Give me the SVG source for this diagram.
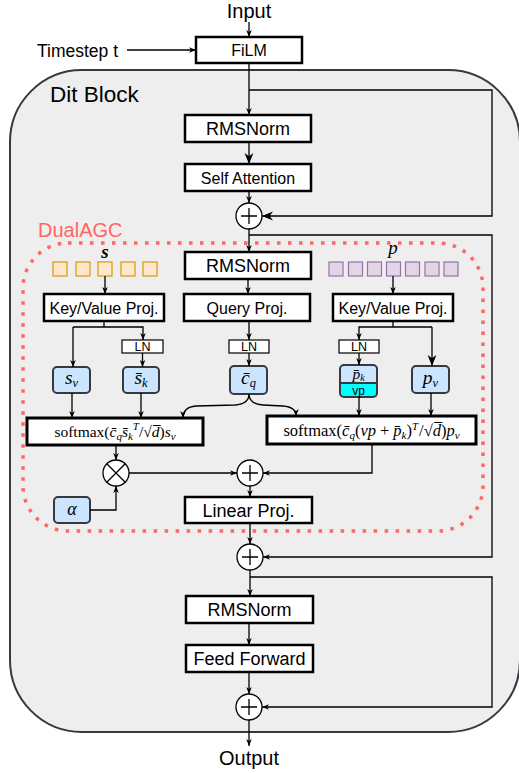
<svg xmlns="http://www.w3.org/2000/svg" width="519" height="773" viewBox="0 0 519 773">
<style>
.t{font-family:"Liberation Sans",Arial,sans-serif;fill:#000;text-anchor:middle}
.box{fill:#fff;stroke:#000;stroke-width:2.5}
.ln{fill:#fff;stroke:#000;stroke-width:1.2}
.bl{fill:#cce5ff;stroke:#36393d;stroke-width:2}
.sm{fill:#fff;stroke:#000;stroke-width:3}
.c{fill:#fff;stroke:#000;stroke-width:1.3}
.e{fill:none;stroke:#000;stroke-width:1.3}
.m{font-family:"Liberation Serif","Times New Roman",serif;fill:#000;text-anchor:middle}
.i{font-style:italic}
.sub{font-size:11px}
.sup{font-size:11px}
.nsub{font-size:12.5px}
.sqs{fill:#ffe6cc;stroke:#d79b00;stroke-width:1.2}
.sqp{fill:#e1d5e7;stroke:#9673a6;stroke-width:1.2}
</style>
<defs>
<marker id="a" viewBox="0 0 10 10" refX="10" refY="5" markerWidth="7" markerHeight="7" markerUnits="userSpaceOnUse" orient="auto"><path d="M0,1 L10,5 L0,9 L3,5 z" fill="#000"/></marker>
<marker id="b" viewBox="0 0 10 10" refX="10" refY="5" markerWidth="11" markerHeight="11" markerUnits="userSpaceOnUse" orient="auto"><path d="M0,1 L10,5 L0,9 L3,5 z" fill="#000"/></marker>
</defs>

<g id="ditblock">
<rect x="10" y="70" width="510" height="662" rx="72" fill="#eeeeee" stroke="#36393d" stroke-width="2"/>
<text class="t" x="50" y="102" font-size="22.5" style="text-anchor:start">Dit Block</text>
</g>

<g id="dualagc">
<rect x="23" y="243" width="460" height="288" rx="45" fill="none" stroke="#ff6666" stroke-width="3.5" stroke-dasharray="3.5 7.5"/>
<text x="38" y="237" font-family="Liberation Sans,Arial,sans-serif" font-size="20" fill="#ff6666">DualAGC</text>
</g>

<g id="input"><text class="t" x="249" y="18" font-size="20">Input</text></g>
<g id="timestep"><text class="t" x="37" y="57" font-size="17.5" style="text-anchor:start">Timestep t</text></g>
<g id="film"><rect class="box" x="196" y="37" width="106" height="26"/><text class="t" x="249" y="56" font-size="16">FiLM</text></g>

<g id="rmsnorm1"><rect class="box" x="185" y="115" width="126" height="27"/><text class="t" x="248" y="135" font-size="18">RMSNorm</text></g>
<g id="selfattn"><rect class="box" x="185" y="164" width="126" height="27"/><text class="t" x="248" y="183.5" font-size="16">Self Attention</text></g>
<g id="plus1"><circle class="c" cx="249" cy="216" r="13"/><path class="e" d="M241,216 H257 M249,208 V224"/></g>

<g id="rmsnorm2"><rect class="box" x="185" y="252" width="126" height="27"/><text class="t" x="248" y="272" font-size="18">RMSNorm</text></g>
<g id="queryproj"><rect class="box" x="184" y="294" width="126" height="27"/><text class="t" x="247" y="313.5" font-size="16">Query Proj.</text></g>
<g id="kvproj-s"><rect class="box" x="44" y="294" width="120" height="27"/><text class="t" x="104" y="313.5" font-size="16">Key/Value Proj.</text></g>
<g id="kvproj-p"><rect class="box" x="333" y="294" width="120" height="27"/><text class="t" x="393" y="313.5" font-size="16">Key/Value Proj.</text></g>

<g id="s-tokens">
<rect class="sqs" x="53" y="262" width="14" height="14"/>
<rect class="sqs" x="76" y="262" width="14" height="14"/>
<rect class="sqs" x="98" y="262" width="14" height="14"/>
<rect class="sqs" x="121" y="262" width="14" height="14"/>
<rect class="sqs" x="143" y="262" width="14" height="14"/>
<text class="m i" x="105" y="258" font-size="19" font-weight="bold">s</text>
</g>
<g id="p-tokens">
<rect class="sqp" x="329" y="262" width="14" height="14"/>
<rect class="sqp" x="348.5" y="262" width="14" height="14"/>
<rect class="sqp" x="367.5" y="262" width="14" height="14"/>
<rect class="sqp" x="386.5" y="262" width="14" height="14"/>
<rect class="sqp" x="405.5" y="262" width="14" height="14"/>
<rect class="sqp" x="425" y="262" width="14" height="14"/>
<rect class="sqp" x="444" y="262" width="14" height="14"/>
<text class="m i" x="393" y="254" font-size="19">p</text>
</g>

<g id="ln1"><rect class="ln" x="122" y="340" width="41" height="13"/><text class="t" x="142.5" y="351" font-size="12.5">LN</text></g>
<g id="ln2"><rect class="ln" x="229" y="340" width="40" height="13"/><text class="t" x="249" y="351" font-size="12.5">LN</text></g>
<g id="ln3"><rect class="ln" x="339" y="340" width="40" height="13"/><text class="t" x="359" y="351" font-size="12.5">LN</text></g>

<g id="sv"><rect class="bl" x="53" y="367" width="37" height="26" rx="4"/><text class="m" x="71.5" y="384" font-size="19.5"><tspan class="i">s</tspan><tspan class="i nsub" dy="3">v</tspan></text></g>
<g id="sk"><rect class="bl" x="123" y="367" width="36" height="26" rx="4"/><text class="m" x="141" y="384" font-size="19.5"><tspan class="i">s̄</tspan><tspan class="i nsub" dy="3">k</tspan></text></g>
<g id="cq"><rect class="bl" x="230" y="366" width="37" height="28" rx="4"/><text class="m" x="248.5" y="384" font-size="19.5"><tspan class="i">c̄</tspan><tspan class="i nsub" dy="3">q</tspan></text></g>
<g id="pk">
<path d="M340,383 L340,369 Q340,365 344,365 L373,365 Q377,365 377,369 L377,383 Z" fill="#cce5ff"/>
<path d="M340,383 L377,383 L377,393 Q377,397 373,397 L344,397 Q340,397 340,393 Z" fill="#00ffff"/>
<rect x="340" y="365" width="37" height="32" rx="4" fill="none" stroke="#36393d" stroke-width="2"/>
<line x1="340" y1="383" x2="377" y2="383" stroke="#36393d" stroke-width="2"/>
<text class="m" x="358.5" y="378.5" font-size="15.5"><tspan class="i">p̄</tspan><tspan class="i" dy="2" font-size="10">k</tspan></text>
<text class="t" x="358.5" y="395" font-size="12">vp</text>
</g>
<g id="pv"><rect class="bl" x="412" y="366" width="37" height="27" rx="4"/><text class="m" x="430.5" y="384" font-size="19.5"><tspan class="i">p</tspan><tspan class="i nsub" dy="3">v</tspan></text></g>
<g id="alpha"><rect class="bl" x="54" y="497" width="36" height="26" rx="4"/><text class="m i" x="72" y="515" font-size="18">α</text></g>

<g id="softmax-s"><rect class="sm" x="27" y="418" width="176" height="27"/>
<text class="m" x="115" y="437" font-size="15.5">softmax(<tspan class="i">c̄</tspan><tspan class="i sub" dy="3">q</tspan><tspan class="i" dy="-3">s̄</tspan><tspan class="i sub" dy="3">k</tspan><tspan class="i sup" dy="-10">T</tspan><tspan dy="7">/√</tspan><tspan class="i">d̅</tspan>)<tspan class="i">s</tspan><tspan class="i sub" dy="3">v</tspan></text></g>
<g id="softmax-p"><rect class="sm" x="267" y="416" width="209" height="28"/>
<text class="m" x="371.5" y="435.5" font-size="16.5">softmax(<tspan class="i">c̄</tspan><tspan class="i sub" dy="3">q</tspan><tspan dy="-3">(</tspan><tspan class="i">vp</tspan><tspan dx="4">+</tspan><tspan class="i" dx="4">p̄</tspan><tspan class="i sub" dy="3">k</tspan><tspan dy="-3">)</tspan><tspan class="i sup" dy="-6">T</tspan><tspan dy="6" dx="1">/√</tspan><tspan class="i">d̅</tspan>)<tspan class="i">p</tspan><tspan class="i sub" dy="3">v</tspan></text></g>

<g id="otimes"><circle class="c" cx="116" cy="473" r="13"/><path class="e" d="M106.8,463.8 L125.2,482.2 M125.2,463.8 L106.8,482.2"/></g>
<g id="plusm"><circle class="c" cx="250" cy="473" r="13"/><path class="e" d="M242,473 H258 M250,465 V481"/></g>
<g id="linearproj"><rect class="box" x="185" y="497" width="127" height="26"/><text class="t" x="248.5" y="516.5" font-size="18">Linear Proj.</text></g>
<g id="plus2"><circle class="c" cx="250" cy="557" r="13"/><path class="e" d="M242,557 H258 M250,549 V565"/></g>

<g id="rmsnorm3"><rect class="box" x="186" y="596" width="127" height="27"/><text class="t" x="249.5" y="616" font-size="18">RMSNorm</text></g>
<g id="feedforward"><rect class="box" x="186" y="645" width="127" height="27"/><text class="t" x="249.5" y="665" font-size="18">Feed Forward</text></g>
<g id="plus3"><circle class="c" cx="249" cy="707" r="13"/><path class="e" d="M241,707 H257 M249,699 V715"/></g>
<g id="output"><text class="t" x="249" y="765" font-size="20">Output</text></g>

<g id="connectors" fill="none" stroke="#000" stroke-width="1.3">
<path d="M249,22 V37" marker-end="url(#a)"/>
<path d="M127,50 H196" marker-end="url(#a)"/>
<path d="M249,63 V115" marker-end="url(#a)"/>
<path d="M249,90 H492 V216 H262" marker-end="url(#b)"/>
<path d="M249,142 V164" marker-end="url(#b)"/>
<path d="M249,191 V203" marker-end="url(#a)"/>
<path d="M249,229 V252" marker-end="url(#a)"/>
<path d="M249,235 H492 V557 H263" marker-end="url(#a)"/>
<path d="M248,279 V294" marker-end="url(#a)"/>
<path d="M105,276 V294" marker-end="url(#a)"/>
<path d="M393,276 V294" marker-end="url(#a)"/>
<path d="M104,321 V327 M73,327 H143 V340" marker-end="url(#a)"/>
<path d="M73,327 V367" marker-end="url(#a)"/>
<path d="M393,321 V327 M432,327 H359 V340" marker-end="url(#a)"/>
<path d="M432,327 V366" marker-end="url(#b)"/>
<path d="M249,321 V340" marker-end="url(#a)"/>
<path d="M249,353 V366" marker-end="url(#a)"/>
<path d="M142.5,353 V367" marker-end="url(#a)"/>
<path d="M359,353 V365" marker-end="url(#a)"/>
<path d="M72,393 V418" marker-end="url(#a)"/>
<path d="M141,393 V418" marker-end="url(#a)"/>
<path d="M249,394 Q249,404 235,405 L196,406 Q183,407 183,418" marker-end="url(#a)"/>
<path d="M249,394 Q249,404 263,405 L283,406 Q296,407 296,416" marker-end="url(#a)"/>
<path d="M359,397 V416" marker-end="url(#a)"/>
<path d="M431,393 V416" marker-end="url(#a)"/>
<path d="M116,445 V460" marker-end="url(#a)"/>
<path d="M129,473 H237" marker-end="url(#a)"/>
<path d="M372,444 V473 H263" marker-end="url(#a)"/>
<path d="M90,510 H116 V486" marker-end="url(#a)"/>
<path d="M250,486 V497" marker-end="url(#a)"/>
<path d="M250,523 V544" marker-end="url(#a)"/>
<path d="M250,570 V596" marker-end="url(#a)"/>
<path d="M250,577 H492 V707 H262" marker-end="url(#a)"/>
<path d="M249,623 V645" marker-end="url(#a)"/>
<path d="M249,672 V694" marker-end="url(#a)"/>
<path d="M249,720 V746" marker-end="url(#a)"/>
</g>
</svg>
